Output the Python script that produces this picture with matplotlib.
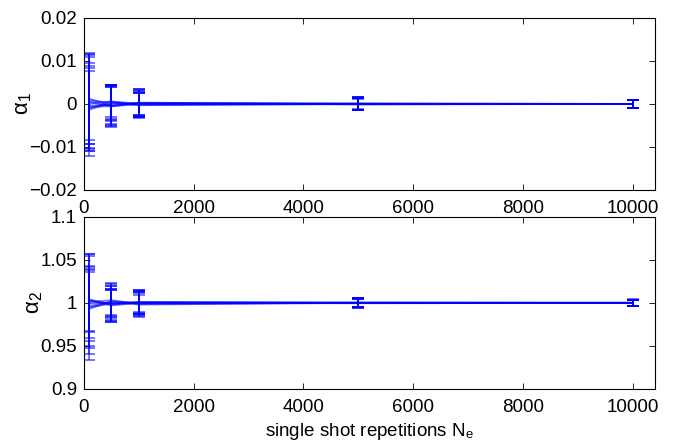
"""Convergence of fitted alpha_1 / alpha_2 against single shot repetitions."""

import matplotlib

matplotlib.use("Agg")
import matplotlib.pyplot as plt  # noqa: E402

# single shot repetitions at which each run was evaluated
N_E = [100, 500, 1000, 5000, 10000]

# alpha_1 estimates, one list per run
ALPHA1 = [
    [0.0012, -0.0004, 0.0002, 0.0001, 0.0000],
    [-0.0010, 0.0005, -0.0002, 0.0000, 0.0000],
    [0.0005, -0.0006, 0.0003, -0.0001, 0.0000],
    [-0.0013, 0.0002, 0.0001, 0.0001, 0.0000],
    [0.0008, 0.0003, -0.0003, 0.0000, 0.0000],
    [-0.0004, -0.0002, 0.0002, 0.0000, 0.0000],
    [0.0001, 0.0006, 0.0000, -0.0001, 0.0000],
    [-0.0007, -0.0005, -0.0001, 0.0000, 0.0000],
]
ALPHA1_ERR = [
    [0.0105, 0.0044, 0.0030, 0.0014, 0.0010],
    [0.0094, 0.0040, 0.0028, 0.0015, 0.0010],
    [0.0114, 0.0046, 0.0031, 0.0014, 0.0009],
    [0.0090, 0.0039, 0.0027, 0.0013, 0.0010],
    [0.0100, 0.0042, 0.0029, 0.0014, 0.0009],
    [0.0118, 0.0045, 0.0032, 0.0015, 0.0010],
    [0.0086, 0.0037, 0.0026, 0.0013, 0.0009],
    [0.0103, 0.0048, 0.0030, 0.0014, 0.0010],
]

# alpha_2 estimates, one list per run
ALPHA2 = [
    [1.004, 0.998, 1.001, 1.0000, 1.000],
    [0.993, 1.002, 0.999, 1.0000, 1.000],
    [1.002, 0.999, 1.000, 1.0005, 1.000],
    [0.996, 1.001, 0.998, 1.0000, 1.000],
    [1.003, 0.997, 1.000, 0.9995, 1.000],
    [0.999, 1.000, 1.001, 1.0000, 1.000],
    [1.001, 1.003, 0.999, 1.0000, 1.000],
    [0.995, 0.999, 1.000, 1.0000, 1.000],
]
ALPHA2_ERR = [
    [0.038, 0.018, 0.013, 0.0050, 0.0036],
    [0.045, 0.020, 0.012, 0.0055, 0.0038],
    [0.052, 0.016, 0.015, 0.0048, 0.0035],
    [0.040, 0.022, 0.011, 0.0052, 0.0037],
    [0.036, 0.019, 0.014, 0.0050, 0.0036],
    [0.058, 0.015, 0.012, 0.0053, 0.0039],
    [0.042, 0.017, 0.016, 0.0047, 0.0035],
    [0.062, 0.021, 0.013, 0.0051, 0.0037],
]

X_TICKS = [0, 2000, 4000, 6000, 8000, 10000]
A1_TICKS = [-0.02, -0.01, 0, 0.01, 0.02]
A1_LABELS = ["\u22120.02", "\u22120.01", "0", "0.01", "0.02"]
A2_TICKS = [0.9, 0.95, 1.0, 1.05, 1.1]
A2_LABELS = ["0.9", "0.95", "1", "1.05", "1.1"]

plt.rcParams["font.family"] = ["Liberation Sans", "DejaVu Sans"]
plt.rcParams["mathtext.fontset"] = "stix"
plt.rcParams["font.size"] = 13.5


def draw_runs(axis, values, errors):
    for run, err in zip(values, errors):
        axis.errorbar(
            N_E,
            run,
            yerr=err,
            color="#0000ff",
            alpha=0.55,
            linewidth=1.3,
            elinewidth=1.3,
            capsize=4.3,
            capthick=1.4,
        )


def style_axis(axis, ticks, labels, limits):
    axis.set_xlim(0, 10400)
    axis.set_xticks(X_TICKS)
    axis.set_xticklabels([str(t) for t in X_TICKS])
    axis.set_ylim(*limits)
    axis.set_yticks(ticks)
    axis.set_yticklabels(labels)
    axis.tick_params(direction="in", length=4.5, width=0.6, top=True, right=True)
    axis.tick_params(axis="x", pad=7)
    axis.tick_params(axis="y", pad=5)
    for spine in axis.spines.values():
        spine.set_linewidth(0.8)


figure = plt.figure(figsize=(6.82, 4.47), dpi=100)
top = figure.add_axes([0.123, 0.575, 0.837, 0.385])
bottom = figure.add_axes([0.123, 0.130, 0.837, 0.385])

draw_runs(top, ALPHA1, ALPHA1_ERR)
style_axis(top, A1_TICKS, A1_LABELS, (-0.02, 0.02))
top.set_ylabel("\u03b1$_\\mathregular{1}$", fontsize=16, labelpad=-3)

draw_runs(bottom, ALPHA2, ALPHA2_ERR)
style_axis(bottom, A2_TICKS, A2_LABELS, (0.9, 1.1))
bottom.set_ylabel("\u03b1$_\\mathregular{2}$", fontsize=16, labelpad=-3)
bottom.set_xlabel(r"single shot repetitions N$_\mathregular{e}$", labelpad=4)

figure.savefig("out.png", dpi=100)
